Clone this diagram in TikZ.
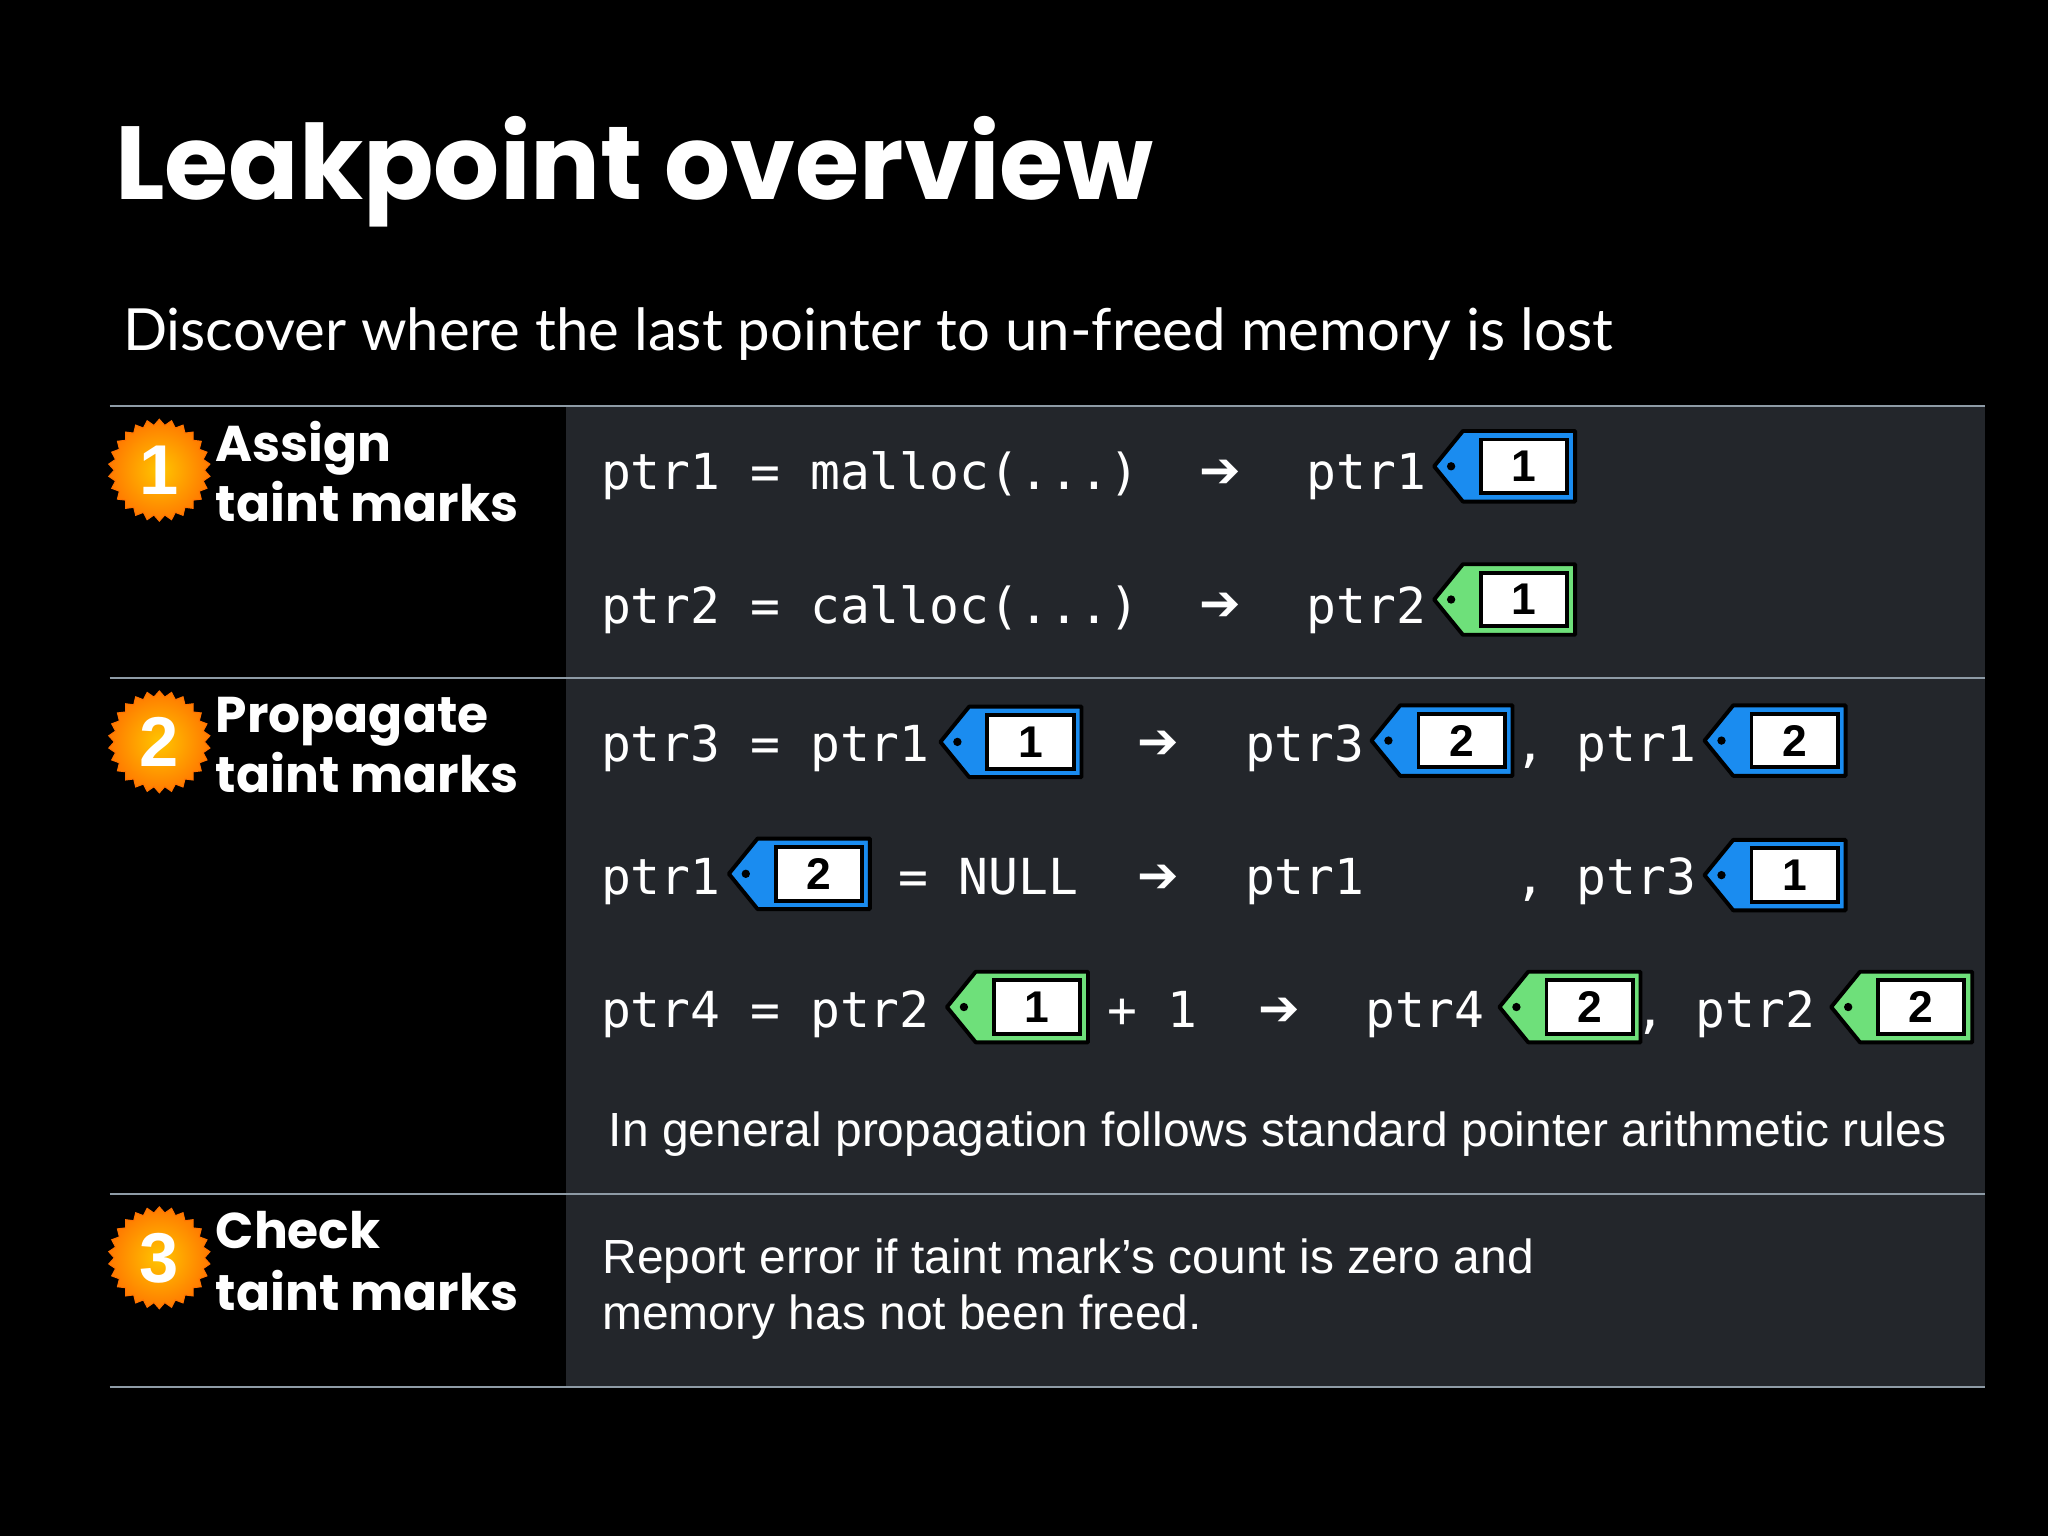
\documentclass[tikz,border=0pt]{standalone}
\usepackage{fontspec}
\setmainfont{Lato}
\newfontfamily\codefont{DejaVu Sans Mono}
\newfontfamily\helv{Liberation Sans}
\newfontfamily\arrfont{DejaVu Sans}
\newfontfamily\heavy{Poppins}
\usetikzlibrary{shapes.geometric}
\definecolor{panel}{HTML}{23262B}
\definecolor{rule}{HTML}{8E9BA6}
\definecolor{tagblue}{HTML}{1A8CF0}
\definecolor{taggreen}{HTML}{6EE07A}
\tikzset{
  code/.style={anchor=base west,text=white,font=\codefont\fontsize{38}{40}\selectfont,inner sep=0},
  arr/.style={anchor=base west,text=white,font=\arrfont\fontsize{38}{40}\selectfont,inner sep=0},
  lbl/.style={anchor=base west,text=white,font=\heavy\bfseries\fontsize{38.5}{40}\selectfont,inner sep=0},
  badge/.style={star,star points=26,star point ratio=1.13,minimum size=78pt,inner sep=0,
    draw=orange!90!red,line width=0.8pt,inner color=yellow!55!orange,outer color=orange!95!red},
  badgenum/.style={text=white,font=\helv\bfseries\fontsize{54}{56}\selectfont},
  rulel/.style={draw=rule,line width=1.2pt},
  body/.style={text=white,font=\helv\fontsize{36.7}{40}\selectfont,anchor=base west,inner sep=0}
}
\newcommand\tg[5]{%
  \fill[#4,draw=black,line width=3pt,line join=round] (#2,#3) -- (#2+22,#3-27) -- (#2+108,#3-27) -- (#2+108,#3+27) -- (#2+22,#3+27) -- cycle;
  \fill[black] (#2+13,#3) circle (3.2);
  \node[draw=black,fill=white,line width=3pt,minimum width=66pt,minimum height=41pt,inner sep=0,
    font=\helv\bfseries\fontsize{34}{36}\selectfont] (#1) at (#2+69,#3) {#5};%
}
\begin{document}
\begin{tikzpicture}[x=1pt,y=-1pt]
\fill[black] (0,0) rectangle (1568,1176);
\useasboundingbox (0,0) rectangle (1568,1176);
\fill[panel] (433,311) rectangle (1520,1062);
\foreach \yy in {311,519,914,1062} \draw[rulel] (84,\yy) -- (1520,\yy);
\node[anchor=base west,inner sep=0,text=white,font=\heavy\bfseries\fontsize{79.5}{84}\selectfont] (title) at (88,153) {Leakpoint overview};
\node[anchor=base west,inner sep=0,text=white,font=\fontsize{44.5}{50}\selectfont] (sub) at (94,268) {Discover where the last pointer to un-freed memory is lost};
% badges
\node[badge] (b1) at (122,360) {}; \node[badgenum] at (b1) {1};
\node[badge] (b2) at (122,568) {}; \node[badgenum] at (b2) {2};
\node[badge] (b3) at (122,963) {}; \node[badgenum] at (b3) {3};
\node[lbl] (l1a) at (165,353) {Assign}; \node[lbl] (l1b) at (165,399) {taint marks};
\node[lbl] (l2a) at (165,561) {Propagate}; \node[lbl] (l2b) at (165,607) {taint marks};
\node[lbl] (l3a) at (165,956) {Check}; \node[lbl] (l3b) at (165,1003) {taint marks};
% row 1
\node[code] (r1a) at (460,375) {ptr1 = malloc(...)};
\node[arr] (r1r) at (918,373) {➔};
\node[code] (r1b) at (1000,375) {ptr1};
\tg{t1}{1098}{357}{tagblue}{1}
% row 2
\node[code] (r2a) at (460,477) {ptr2 = calloc(...)};
\node[arr] (r2r) at (918,475) {➔};
\node[code] (r2b) at (1000,477) {ptr2};
\tg{t2}{1098}{459}{taggreen}{1}
% row 3
\node[code] (r3a) at (460,583) {ptr3 = ptr1};
\tg{t3a}{720}{568}{tagblue}{1}
\node[arr] (r3r) at (871,581) {➔};
\node[code] (r3b) at (953,583) {ptr3};
\tg{t3b}{1050}{567}{tagblue}{2}
\node[code] (r3c) at (1160,583) {,};
\node[code] (r3d) at (1207,583) {ptr1};
\tg{t3c}{1305}{567}{tagblue}{2}
% row 4
\node[code] (r4a) at (460,685) {ptr1};
\tg{t4a}{558}{669}{tagblue}{2}
\node[code] (r4b) at (688,685) {= NULL};
\node[arr] (r4r) at (871,683) {➔};
\node[code] (r4c) at (953,685) {ptr1};
\node[code] (r4d) at (1160,685) {,};
\node[code] (r4e) at (1207,685) {ptr3};
\tg{t4b}{1305}{670}{tagblue}{1}
% row 5
\node[code] (r5a) at (460,787) {ptr4 = ptr2};
\tg{t5a}{725}{771}{taggreen}{1}
\node[code] (r5b) at (848,787) {+ 1};
\node[arr] (r5r) at (963,785) {➔};
\node[code] (r5c) at (1045,787) {ptr4};
\tg{t5b}{1148}{771}{taggreen}{2}
\node[code] (r5d) at (1252,787) {,};
\node[code] (r5e) at (1298,787) {ptr2};
\tg{t5c}{1402}{771}{taggreen}{2}
\node[body] (gen) at (466,878) {In general propagation follows standard pointer arithmetic rules};
\node[body] (rep1) at (461,975) {Report error if taint mark’s count is zero and};
\node[body] (rep2) at (461,1018) {memory has not been freed.};
\end{tikzpicture}
\end{document}
